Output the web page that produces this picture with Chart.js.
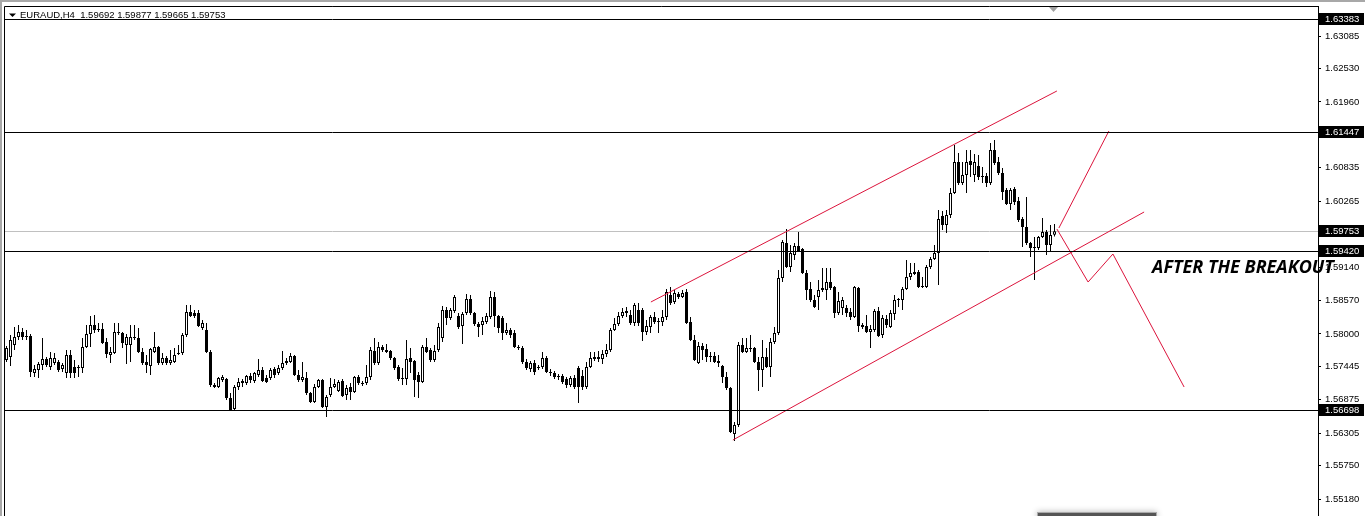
<!DOCTYPE html>
<html><head><meta charset="utf-8">
<script src="https://cdn.jsdelivr.net/npm/chart.js@4.4.1/dist/chart.umd.min.js"></script>
<style>html,body{margin:0;padding:0;background:#fff;overflow:hidden}canvas{display:block}</style>
</head><body>
<canvas id="c" width="1365" height="516"></canvas>
<script>
// ---- candle data (EURAUD H4) ----
const openP = [
1.57555,1.57607,1.57811,1.57948,1.58033,1.57965,1.57965,1.57333,1.57384,1.57470,
1.57572,1.57436,1.57504,1.57521,1.57401,1.57333,1.57640,1.57436,1.57418,1.57418,
1.57777,1.57999,1.58152,1.58084,1.58084,1.57862,1.57640,1.57675,1.58033,1.58016,
1.57811,1.57811,1.57948,1.57930,1.57692,1.57521,1.57453,1.57692,1.57777,1.57504,
1.57589,1.57504,1.57521,1.57658,1.57675,1.57982,1.58374,1.58357,1.58357,1.58101,
1.58067,1.57692,1.57128,1.57094,1.57213,1.57230,1.56906,1.56718,1.57094,1.57162,
1.57162,1.57282,1.57196,1.57299,1.57384,1.57247,1.57247,1.57401,1.57333,1.57418,
1.57504,1.57521,1.57623,1.57299,1.57213,1.57247,1.56992,1.56838,1.57094,1.57213,
1.56752,1.56957,1.57094,1.57026,1.57196,1.56957,1.57094,1.57009,1.57265,1.57162,
1.57162,1.57265,1.57709,1.57504,1.57777,1.57726,1.57709,1.57589,1.57436,1.57247,
1.57230,1.57589,1.57538,1.57299,1.57179,1.57777,1.57726,1.57555,1.57726,1.57930,
1.58408,1.58272,1.58391,1.58306,1.58135,1.58357,1.58596,1.58357,1.58169,1.58152,
1.58204,1.58289,1.58630,1.58306,1.58272,1.58016,1.58067,1.58016,1.57777,1.57759,
1.57521,1.57401,1.57504,1.57418,1.57436,1.57589,1.57350,1.57333,1.57282,1.57282,
1.57230,1.57128,1.57247,1.57418,1.57282,1.57094,1.57436,1.57606,1.57606,1.57572,
1.57658,1.57726,1.58067,1.58169,1.58306,1.58391,1.58323,1.58187,1.58408,1.58408,
1.58033,1.58119,1.58289,1.58221,1.58204,1.58289,1.58664,1.58545,1.58681,1.58630,
1.58716,1.58204,1.57896,1.57504,1.57794,1.57743,1.57623,1.57623,1.57538,1.57453,
1.57265,1.57077,1.56292,1.56445,1.57811,1.57692,1.57743,1.57759,1.57521,1.57384,
1.57606,1.57436,1.57862,1.58016,1.58955,1.59552,1.59142,1.59347,1.59501,1.59450,
1.59040,1.58767,1.58579,1.58630,1.58750,1.58750,1.58886,1.58801,1.58357,1.58443,
1.58443,1.58374,1.58289,1.58784,1.58152,1.58135,1.58033,1.58067,1.58391,1.57982,
1.58255,1.58119,1.58340,1.58579,1.58579,1.58767,1.58972,1.59023,1.59057,1.58801,
1.58801,1.59142,1.59279,1.59381,1.60013,1.59859,1.60030,1.60405,1.60935,1.60576,
1.60713,1.60952,1.60713,1.60867,1.60679,1.60696,1.60576,1.61140,1.60935,1.60747,
1.60457,1.60218,1.60474,1.60269,1.59962,1.59825,1.59552,1.59467,1.59467,1.59654,
1.59740,1.59518,1.59692];
const highP = [
1.57794,1.57982,1.58119,1.58152,1.58101,1.58067,1.57999,1.57470,1.57521,1.57930,
1.57606,1.57692,1.57675,1.57555,1.57504,1.57726,1.57726,1.57555,1.57470,1.57930,
1.58152,1.58306,1.58323,1.58187,1.58187,1.57930,1.57777,1.58187,1.58187,1.58033,
1.57999,1.58152,1.58152,1.58101,1.57759,1.57640,1.57759,1.58033,1.57794,1.57675,
1.57623,1.57726,1.57759,1.57811,1.58016,1.58494,1.58494,1.58408,1.58408,1.58238,
1.58187,1.57726,1.57162,1.57265,1.57299,1.57247,1.56992,1.57128,1.57247,1.57230,
1.57299,1.57333,1.57350,1.57572,1.57436,1.57299,1.57418,1.57436,1.57470,1.57709,
1.57589,1.57675,1.57640,1.57384,1.57521,1.57350,1.57009,1.57145,1.57230,1.57230,
1.56957,1.57247,1.57230,1.57213,1.57230,1.57128,1.57162,1.57282,1.57299,1.57196,
1.57470,1.57777,1.57930,1.57862,1.57811,1.57828,1.57726,1.57606,1.57470,1.57418,
1.57896,1.57759,1.57555,1.57350,1.57811,1.57930,1.57759,1.57811,1.58187,1.58477,
1.58460,1.58443,1.58664,1.58357,1.58374,1.58681,1.58664,1.58374,1.58204,1.58289,
1.58357,1.58733,1.58716,1.58323,1.58306,1.58187,1.58101,1.58067,1.57811,1.57794,
1.57572,1.57538,1.57555,1.57470,1.57692,1.57623,1.57401,1.57367,1.57316,1.57316,
1.57265,1.57282,1.57299,1.57453,1.57384,1.57521,1.57692,1.57692,1.57709,1.57726,
1.57828,1.58101,1.58272,1.58374,1.58443,1.58460,1.58408,1.58528,1.58528,1.58443,
1.58238,1.58323,1.58374,1.58272,1.58408,1.58767,1.58801,1.58750,1.58716,1.58750,
1.58767,1.58289,1.57982,1.57862,1.57845,1.57828,1.57692,1.57692,1.57640,1.57470,
1.57350,1.57094,1.56497,1.57862,1.57930,1.57930,1.57982,1.57777,1.57606,1.57896,
1.57759,1.57930,1.58119,1.59091,1.59603,1.59791,1.59518,1.59552,1.59740,1.59467,
1.59091,1.58886,1.58664,1.58920,1.59125,1.59125,1.59125,1.58818,1.58716,1.58630,
1.58494,1.58443,1.58818,1.58801,1.58187,1.58323,1.58152,1.58426,1.58460,1.58323,
1.58323,1.58408,1.58664,1.58613,1.58801,1.59262,1.59211,1.59211,1.59091,1.58972,
1.59177,1.59313,1.59518,1.60115,1.60098,1.60115,1.60491,1.61225,1.61088,1.60935,
1.61140,1.61140,1.61071,1.61054,1.60849,1.60747,1.61259,1.61310,1.61020,1.60832,
1.60491,1.60491,1.60508,1.60337,1.59996,1.60337,1.59569,1.59654,1.59671,1.59979,
1.59774,1.59859,1.59877];
const lowP = [
1.57521,1.57453,1.57726,1.57896,1.57896,1.57896,1.57265,1.57265,1.57247,1.57384,
1.57436,1.57384,1.57470,1.57350,1.57350,1.57247,1.57247,1.57247,1.57265,1.57333,
1.57759,1.57777,1.58016,1.58033,1.57828,1.57589,1.57504,1.57658,1.57982,1.57759,
1.57487,1.57521,1.57896,1.57675,1.57470,1.57333,1.57299,1.57675,1.57470,1.57470,
1.57470,1.57470,1.57504,1.57640,1.57640,1.57948,1.58289,1.58272,1.58119,1.58067,
1.57675,1.57094,1.57077,1.57077,1.57179,1.56872,1.56684,1.56684,1.57043,1.57094,
1.57128,1.57162,1.57162,1.57265,1.57179,1.57162,1.57213,1.57247,1.57299,1.57384,
1.57470,1.57504,1.57282,1.57179,1.57179,1.56957,1.56821,1.56821,1.57077,1.56735,
1.56582,1.56923,1.57077,1.57009,1.56923,1.56872,1.56872,1.56992,1.57128,1.57111,
1.57128,1.57213,1.57470,1.57470,1.57692,1.57675,1.57555,1.57384,1.57196,1.57128,
1.57128,1.57333,1.56923,1.56906,1.57162,1.57675,1.57521,1.57521,1.57692,1.57862,
1.58152,1.58238,1.58357,1.58084,1.57828,1.58323,1.58323,1.58135,1.57948,1.57982,
1.58169,1.58255,1.58119,1.58016,1.57896,1.57982,1.57930,1.57759,1.57726,1.57487,
1.57384,1.57350,1.57299,1.57384,1.57401,1.57333,1.57282,1.57230,1.57213,1.57145,
1.57077,1.57094,1.57060,1.56821,1.57043,1.57060,1.57418,1.57538,1.57521,1.57487,
1.57606,1.57692,1.58050,1.58135,1.58272,1.58289,1.58152,1.58135,1.58135,1.57879,
1.57982,1.58016,1.58169,1.58016,1.58135,1.58238,1.58494,1.58511,1.58596,1.58613,
1.58169,1.57879,1.57538,1.57487,1.57555,1.57521,1.57521,1.57504,1.57436,1.57162,
1.57043,1.56309,1.56172,1.56411,1.57675,1.57675,1.57692,1.57504,1.57026,1.57094,
1.57418,1.57265,1.57828,1.57982,1.58886,1.59125,1.59057,1.59262,1.59399,1.59023,
1.58579,1.58545,1.58443,1.58408,1.58716,1.58579,1.58750,1.58272,1.58323,1.58323,
1.58289,1.58238,1.58272,1.58033,1.58084,1.58016,1.57759,1.58033,1.57948,1.57930,
1.58101,1.58101,1.58238,1.58460,1.58408,1.58750,1.58920,1.59006,1.58784,1.58784,
1.58784,1.59108,1.59262,1.58835,1.59774,1.59723,1.59979,1.60388,1.60542,1.60542,
1.60405,1.60679,1.60593,1.60627,1.60576,1.60508,1.60542,1.60884,1.60713,1.60286,
1.60201,1.60115,1.60201,1.59911,1.59484,1.59518,1.59313,1.58920,1.59433,1.59637,
1.59347,1.59399,1.59665];
const closeP = [
1.57759,1.57896,1.57948,1.58033,1.57948,1.57948,1.57350,1.57401,1.57487,1.57572,
1.57470,1.57589,1.57589,1.57384,1.57470,1.57640,1.57333,1.57333,1.57436,1.57777,
1.57999,1.58152,1.58067,1.58067,1.57845,1.57658,1.57692,1.58033,1.58016,1.57845,
1.57948,1.57948,1.57930,1.57692,1.57504,1.57470,1.57743,1.57777,1.57504,1.57589,
1.57504,1.57555,1.57640,1.57675,1.57982,1.58374,1.58306,1.58306,1.58135,1.58187,
1.57692,1.57128,1.57094,1.57247,1.57265,1.56906,1.56701,1.57094,1.57179,1.57196,
1.57282,1.57213,1.57333,1.57384,1.57196,1.57179,1.57384,1.57299,1.57418,1.57504,
1.57538,1.57623,1.57299,1.57213,1.57265,1.56992,1.56838,1.57094,1.57213,1.56752,
1.56923,1.57094,1.57145,1.57179,1.56940,1.57077,1.57009,1.57265,1.57162,1.57145,
1.57265,1.57726,1.57504,1.57777,1.57726,1.57692,1.57589,1.57418,1.57230,1.57230,
1.57572,1.57521,1.57213,1.57179,1.57777,1.57692,1.57555,1.57709,1.58119,1.58408,
1.58272,1.58408,1.58630,1.58119,1.58340,1.58596,1.58357,1.58169,1.58119,1.58221,
1.58306,1.58630,1.58306,1.58101,1.58016,1.58067,1.57982,1.57777,1.57759,1.57521,
1.57418,1.57504,1.57350,1.57436,1.57589,1.57350,1.57333,1.57265,1.57265,1.57179,
1.57128,1.57247,1.57094,1.57094,1.57094,1.57436,1.57589,1.57572,1.57572,1.57658,
1.57726,1.58067,1.58169,1.58306,1.58374,1.58357,1.58187,1.58494,1.58187,1.58033,
1.58135,1.58289,1.58204,1.58204,1.58289,1.58716,1.58528,1.58699,1.58630,1.58699,
1.58187,1.57896,1.57555,1.57794,1.57726,1.57606,1.57606,1.57521,1.57504,1.57265,
1.57077,1.56326,1.56445,1.57811,1.57692,1.57759,1.57759,1.57521,1.57384,1.57606,
1.57436,1.57862,1.58016,1.58955,1.59569,1.59142,1.59381,1.59501,1.59416,1.59040,
1.58750,1.58579,1.58460,1.58750,1.58784,1.58886,1.58784,1.58357,1.58562,1.58579,
1.58357,1.58289,1.58801,1.58135,1.58119,1.58033,1.58084,1.58391,1.57965,1.58272,
1.58152,1.58357,1.58579,1.58596,1.58767,1.58972,1.59040,1.59057,1.58801,1.58818,
1.59142,1.59279,1.59381,1.59962,1.59859,1.60030,1.60405,1.60935,1.60576,1.60713,
1.60935,1.60884,1.60935,1.60679,1.60696,1.60576,1.61140,1.60918,1.60747,1.60423,
1.60218,1.60457,1.60252,1.59945,1.59825,1.59552,1.59467,1.59484,1.59654,1.59740,
1.59518,1.59689,1.59753];

// ---- axis / annotations ----
const yTicks = [1.63085,1.62530,1.61960,1.61390,1.60835,1.60265,1.59710,1.59140,1.58570,1.58000,1.57445,1.56875,1.56305,1.55750,1.55180];
const levelLines = [1.63383,1.61447,1.59420,1.56698];
const bidLevel = 1.59753;
const channelUpper = [{x:161.1,y:1.58545},{x:262.6,y:1.62147}];
const channelLower = [{x:181.6,y:1.56189},{x:284.4,y:1.60081}];
const projUp = [{x:263.1,y:1.59808},{x:275.6,y:1.61464}];
const projDown = [{x:262.6,y:1.59791},{x:270.4,y:1.58886},{x:276.6,y:1.59364},{x:294.4,y:1.57094}];
const headerText = 'EURAUD,H4  1.59692 1.59877 1.59665 1.59753';
const noteText = 'AFTER THE BREAKOUT';
const notePos = {x:286.4, y:1.5904};

const RED = '#dc143c';
const FONT = "'Liberation Sans', Arial, sans-serif";
const FSIZE = 9.5;
const idx = openP.map((_, i) => i);
const wickData = idx.map(i => ({x:i, y:[lowP[i], highP[i]]}));
const bodyData = idx.map(i => ({x:i, y:[openP[i], closeP[i]]}));
const bodyFill = idx.map(i => closeP[i] >= openP[i] ? '#ffffff' : '#000000');

function lineDs(d){
  return {type:'line', data:d, borderColor:RED, borderWidth:1, pointRadius:0, tension:0, fill:false, order:-1};
}

const extras = {
  id:'extras',
  beforeDraw(chart){
    const c = chart.ctx; c.save(); c.fillStyle='#fff'; c.fillRect(0,0,chart.width,chart.height); c.restore();
  },
  beforeDatasetsDraw(chart){
    const {ctx, chartArea:a, scales:{y}} = chart;
    const py = Math.round(y.getPixelForValue(bidLevel)) + 0.5;
    ctx.save(); ctx.strokeStyle='#c0c0c0'; ctx.lineWidth=1;
    ctx.beginPath(); ctx.moveTo(a.left, py); ctx.lineTo(a.right, py); ctx.stroke(); ctx.restore();
  },
  afterDatasetsDraw(chart){
    const {ctx, chartArea:a, scales:{y}} = chart;
    ctx.save(); ctx.strokeStyle='#000'; ctx.lineWidth=1;
    levelLines.forEach(v => {
      const py = Math.round(y.getPixelForValue(v)) + 0.5;
      ctx.beginPath(); ctx.moveTo(a.left, py); ctx.lineTo(a.right, py); ctx.stroke();
    });
    ctx.restore();
  },
  afterDraw(chart){
    const {ctx, chartArea:a, scales:{x, y}} = chart;
    ctx.save();
    // window frame
    ctx.fillStyle='#a8a8a8';
    ctx.fillRect(0,0,chart.width,2);
    ctx.fillRect(0,0,2,chart.height);
    ctx.strokeStyle='#000'; ctx.lineWidth=1;
    ctx.beginPath();
    ctx.moveTo(a.left+0.5, chart.height); ctx.lineTo(a.left+0.5, a.top+0.5); ctx.lineTo(a.right, a.top+0.5);
    ctx.stroke();
    // shift marker
    ctx.fillStyle='#a0a0a0';
    ctx.beginPath(); ctx.moveTo(1049, a.top+1); ctx.lineTo(1058, a.top+1); ctx.lineTo(1053.5, a.top+6); ctx.closePath(); ctx.fill();
    // price boxes
    ctx.font = FSIZE + 'px ' + FONT; ctx.textBaseline='middle'; ctx.textAlign='left';
    [...levelLines, bidLevel].forEach(v => {
      const py = Math.round(y.getPixelForValue(v));
      ctx.fillStyle='#000'; ctx.fillRect(a.right+1, py-6, 45, 12);
      ctx.fillStyle='#fff'; ctx.fillText(v.toFixed(5), a.right+7, py);
    });
    // header
    ctx.fillStyle='#000';
    ctx.beginPath(); ctx.moveTo(9,13.5); ctx.lineTo(16,13.5); ctx.lineTo(12.5,17); ctx.closePath(); ctx.fill();
    ctx.textBaseline='alphabetic';
    ctx.fillText(headerText, 20, 18);
    // annotation text
    ctx.font = "italic bold 18px 'Open Sans', Lato, 'Liberation Sans', sans-serif";
    ctx.fillStyle='#000';
    ctx.fillText(noteText, x.getPixelForValue(notePos.x), y.getPixelForValue(notePos.y), 195);
    // bottom scroll element
    ctx.shadowColor='rgba(0,0,0,0.3)'; ctx.shadowBlur=6;
    ctx.fillStyle='#555'; ctx.fillRect(1037,512,120,6);
    ctx.shadowBlur=0; ctx.strokeStyle='#aaa'; ctx.strokeRect(1037.5,512.5,119,6);
    ctx.restore();
  }
};

new Chart(document.getElementById('c'), {
  type:'bar',
  data:{datasets:[
    lineDs(channelUpper), lineDs(channelLower), lineDs(projUp), lineDs(projDown),
    {label:'bodies', data:bodyData, backgroundColor:bodyFill, borderColor:'#000', borderWidth:1,
     borderSkipped:false, barThickness:3, grouped:false, inflateAmount:0, minBarLength:1, order:0},
    {label:'wicks', data:wickData, backgroundColor:'#000', borderWidth:0,
     barThickness:1, grouped:false, inflateAmount:0, order:1}
  ]},
  options:{
    responsive:false, animation:false, devicePixelRatio:1, events:[],
    layout:{padding:{left:4, top:6, right:0, bottom:0}},
    plugins:{legend:{display:false}, tooltip:{enabled:false}},
    scales:{
      x:{type:'linear', min:-0.625, max:327.875, offset:false, display:false},
      y:{type:'linear', position:'right', min:1.548919, max:1.635976, beginAtZero:false,
         afterBuildTicks: s => { s.ticks = yTicks.map(v => ({value:v})); },
         afterFit: s => { s.width = 47; s.paddingTop = 0; s.paddingBottom = 0; },
         grid:{display:true, drawOnChartArea:false, drawTicks:true, tickLength:3, color:'#000', tickColor:'#000'},
         border:{display:true, color:'#000', width:1},
         ticks:{autoSkip:false, padding:4, color:'#000', font:{family:FONT, size:FSIZE},
                callback: v => Number(v).toFixed(5)}}
    }
  },
  plugins:[extras]
});
</script>
</body></html>
